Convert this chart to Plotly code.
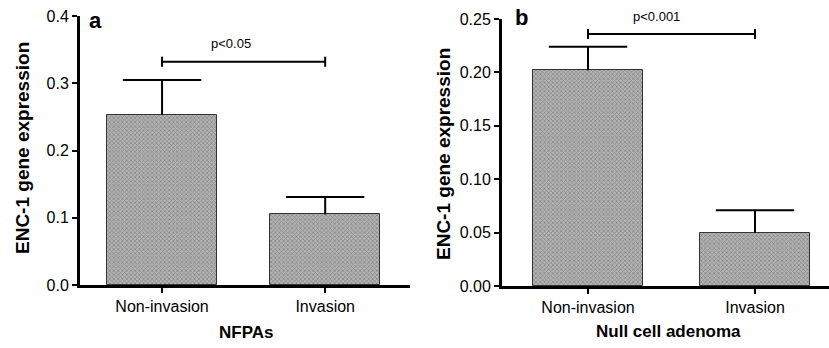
import plotly.graph_objects as go

categories = ["Non-invasion", "Invasion"]
nfpa_values = [0.253, 0.105]
nfpa_sem = [0.052, 0.026]
null_values = [0.202, 0.050]
null_sem = [0.022, 0.021]
nfpa_yticks = [0.0, 0.1, 0.2, 0.3, 0.4]
nfpa_yticklabels = ["0.0", "0.1", "0.2", "0.3", "0.4"]
null_yticks = [0.0, 0.05, 0.10, 0.15, 0.20, 0.25]
null_yticklabels = ["0.00", "0.05", "0.10", "0.15", "0.20", "0.25"]
nfpa_p = "p<0.05"
null_p = "p<0.001"
nfpa_sig_y = 0.332
null_sig_y = 0.236

W, H = 829, 348
YTICKFONT = dict(family="Liberation Sans, Arial", size=16, color="black")
XTICKFONT = dict(family="Liberation Sans, Arial", size=16, color="black")
BOLD = dict(family="Liberation Sans, Arial", size=17, color="black")
YTITLEFONT = dict(family="Liberation Sans, Arial", size=19, color="black")

fig = go.Figure()

def bar(x, y, xa, ya, width):
    return go.Bar(
        x=x, y=y, xaxis=xa, yaxis=ya, width=width,
        marker=dict(color="#a8a8a8",
                    line=dict(color="#333333", width=1),
                    pattern=dict(shape="x", size=3, solidity=0.4,
                                 fgcolor="#4a4a4a", bgcolor="#b4b4b4")),
        showlegend=False, hoverinfo="skip",
    )

def errbar(x, y, err, xa, ya):
    tops = [v + e for v, e in zip(y, err)]
    return go.Scatter(
        x=x, y=tops, xaxis=xa, yaxis=ya, mode="markers",
        marker=dict(symbol="line-ew", size=56, line=dict(color="black", width=2), color="black"),
        error_y=dict(type="data", array=[0] * len(err), arrayminus=err, symmetric=False,
                     color="black", thickness=2, width=0),
        showlegend=False, hoverinfo="skip", cliponaxis=False,
    )

fig.add_trace(bar(categories, nfpa_values, "x", "y", 0.675))
fig.add_trace(bar(categories, null_values, "x2", "y2", 0.66))
fig.add_trace(errbar(categories, nfpa_values, nfpa_sem, "x", "y"))
fig.add_trace(errbar(categories, null_values, null_sem, "x2", "y2"))

axis_common = dict(showline=True, linecolor="black", linewidth=3, ticks="outside",
                   tickcolor="black", tickwidth=2, ticklen=5, showgrid=False,
                   zeroline=False, automargin=False)

fig.update_layout(
    width=W, height=H, margin=dict(l=0, r=0, t=0, b=0, autoexpand=False),
    paper_bgcolor="white", plot_bgcolor="white", bargap=0,
    xaxis=dict(domain=[80 / W, 410 / W], anchor="y", type="category",
               range=[-0.503, 1.52], tickfont=XTICKFONT, **axis_common),
    yaxis=dict(domain=[63 / H, 332 / H], anchor="x", range=[0, 0.4],
               tickvals=nfpa_yticks, ticktext=nfpa_yticklabels, tickfont=YTICKFONT, **axis_common),
    xaxis2=dict(domain=[502 / W, 1.0], anchor="y2", type="category",
                range=[-0.515, 1.443], tickfont=XTICKFONT, **axis_common),
    yaxis2=dict(domain=[62 / H, 329 / H], anchor="x2", range=[0, 0.25],
                tickvals=null_yticks, ticktext=null_yticklabels, tickfont=YTICKFONT, **axis_common),
)

# significance brackets
for xa, ya, sy, d in [("x", "y", nfpa_sig_y, 0.0075), ("x2", "y2", null_sig_y, 0.0047)]:
    fig.add_shape(type="line", xref=xa, yref=ya, x0=0, x1=1, y0=sy, y1=sy,
                  line=dict(color="black", width=2))
    for xv in (0, 1):
        fig.add_shape(type="line", xref=xa, yref=ya, x0=xv, x1=xv, y0=sy - d, y1=sy + d,
                      line=dict(color="black", width=2))

PFONT = dict(family="Liberation Sans, Arial", size=13, color="black")
fig.add_annotation(x=0.42, y=1 - 43 / H, xref="x", yref="paper", text=nfpa_p, showarrow=False,
                   xanchor="center", yanchor="middle", font=PFONT)
fig.add_annotation(x=0.41, y=1 - 17 / H, xref="x2", yref="paper", text=null_p, showarrow=False,
                   xanchor="center", yanchor="middle", font=PFONT)

# panel letters
LFONT = dict(family="Liberation Sans, Arial", size=22, color="black")
fig.add_annotation(x=95 / W, y=1 - 21 / H, xref="paper", yref="paper", text="<b>a</b>",
                   showarrow=False, xanchor="center", yanchor="middle", font=LFONT)
fig.add_annotation(x=521 / W, y=1 - 18 / H, xref="paper", yref="paper", text="<b>b</b>",
                   showarrow=False, xanchor="center", yanchor="middle", font=LFONT)

# axis titles
for xp, yp in [(22, 148), (443, 154)]:
    fig.add_annotation(x=xp / W, y=1 - yp / H, xref="paper", yref="paper",
                       text="<b>ENC-1 gene expression</b>", textangle=-90, showarrow=False,
                       xanchor="center", yanchor="middle", font=YTITLEFONT)
fig.add_annotation(x=246 / W, y=1 - 332 / H, xref="paper", yref="paper",
                   text="<b>NFPAs</b>", showarrow=False, xanchor="center", yanchor="middle", font=BOLD)
fig.add_annotation(x=668 / W, y=1 - 331 / H, xref="paper", yref="paper",
                   text="<b>Null cell adenoma</b>", showarrow=False, xanchor="center", yanchor="middle",
                   font=BOLD)

fig.write_html("out.html", config={"displayModeBar": False},
               post_script="document.body.style.margin='0';document.body.style.overflow='hidden';")
